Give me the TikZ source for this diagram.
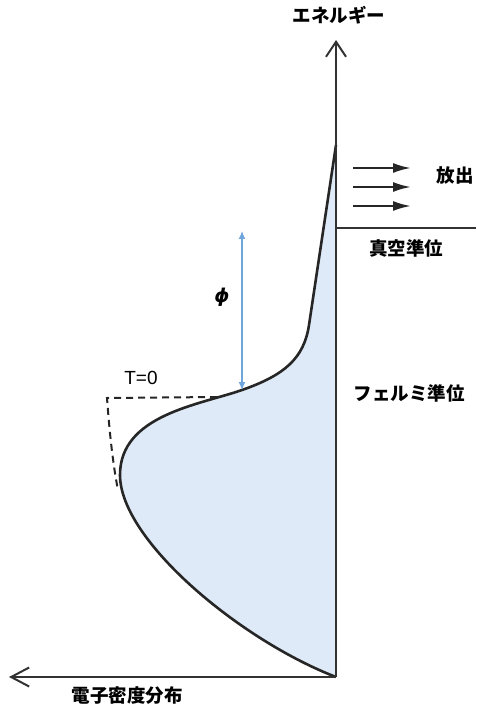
\documentclass[tikz,border=0pt]{standalone}
\usepackage{fontspec}
\setmainfont{Liberation Sans}
\newfontfamily\jp{Noto Sans CJK JP}
\newfontfamily\phifont{DejaVu Sans}
\usetikzlibrary{arrows.meta}
\definecolor{fillblue}{RGB}{222,234,247}
\definecolor{phiblue}{RGB}{110,165,220}
\definecolor{axisgray}{RGB}{50,50,50}
\tikzset{
  jplabel/.style={font=\jp\bfseries\fontsize{18.5}{20}\selectfont, inner sep=0pt},
  axisline/.style={draw=axisgray, line width=2pt},
  emit/.style={line width=2.2pt, draw=black!85, -{Latex[length=18pt,width=10pt]}},
  curveline/.style={draw=black!85, line width=2.6pt},
}
\begin{document}
\begin{tikzpicture}[x=1pt,y=-1pt]
\useasboundingbox (0,0) rectangle (476,708);
% coordinates
\coordinate (O) at (336,677);
\coordinate (Ytop) at (336,40);
\coordinate (Xend) at (9,677);
\coordinate (Vac) at (336,228);
\coordinate (VacR) at (476,228);
\coordinate (Top) at (336,145);
\coordinate (F) at (242,390);
\coordinate (Phitop) at (242,231);
% filled distribution
\fill[fillblue] (Top) -- (309,325) .. controls (304,358) and (285,375) .. (F)
  .. controls (199,405) and (120,415) .. (120,475)
  .. controls (120,540) and (240,640) .. (O) -- cycle;
\draw[curveline] (Top) -- (309,325) .. controls (304,358) and (285,375) .. (F)
  .. controls (199,405) and (120,415) .. (120,475)
  .. controls (120,540) and (240,640) .. (O);
% T=0 dashed
\draw[black!85, line width=2pt, dash pattern=on 7pt off 5pt]
  (217,397) -- (107,398) .. controls (110,440) and (114,470) .. (118,490);
% axes
\draw[axisline, -{Straight Barb[length=15pt,width=20pt,line width=2pt]}] (O) -- (Ytop);
\draw[axisline, -{Straight Barb[length=18pt,width=19pt,line width=2pt]}] (O) -- (Xend);
\draw[axisline] (Vac) -- (VacR);
% emission arrows
\coordinate (e1a) at (353,168); \coordinate (e1b) at (411,168);
\coordinate (e2a) at (353,187); \coordinate (e2b) at (411,187);
\coordinate (e3a) at (353,206); \coordinate (e3b) at (411,206);
\draw[emit] (e1a) -- (e1b);
\draw[emit] (e2a) -- (e2b);
\draw[emit] (e3a) -- (e3b);
% work function arrow
\draw[phiblue, line width=1.3pt, {Latex[length=8pt,width=7pt]}-{Latex[length=8pt,width=7pt]}] (F) -- (Phitop);
% labels
\node[jplabel] (lE) at (339,15) {エネルギー};
\node[jplabel] (lX) at (127,696) {電子密度分布};
\node[jplabel] (lEm) at (455,175) {放出};
\node[jplabel] (lVac) at (406,248) {真空準位};
\node[jplabel] (lF) at (409,393) {フェルミ準位};
\node[font=\fontsize{19}{21}\selectfont, inner sep=0pt] (lT) at (141,378) {T=0};
\node[font=\phifont\bfseries\itshape\fontsize{19}{21}\selectfont, inner sep=0pt] (lphi) at (222,297) {ϕ};
\end{tikzpicture}
\end{document}
